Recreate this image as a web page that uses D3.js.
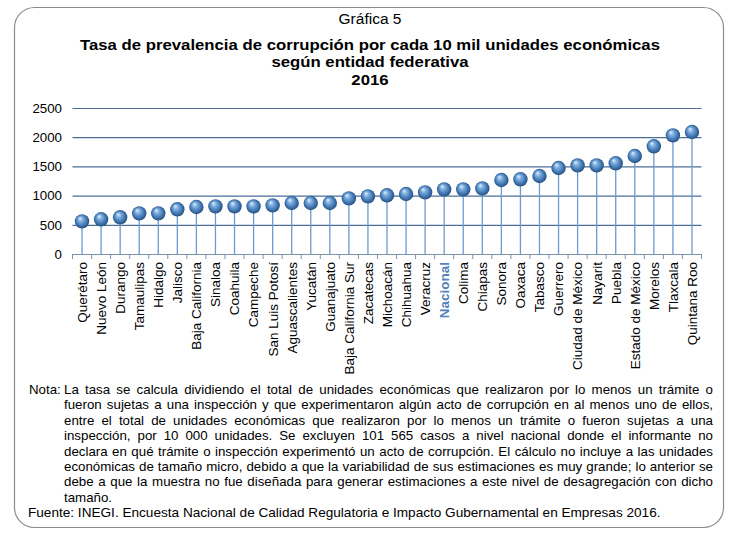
<!DOCTYPE html>
<html>
<head>
<meta charset="utf-8">
<script src="https://cdn.jsdelivr.net/npm/d3@7"></script>
<style>
  html, body { margin: 0; padding: 0; background: #fff; }
  svg { display: block; }
  text { font-family: "Liberation Sans", Arial, sans-serif; fill: #000; }
</style>
</head>
<body>
<svg id="chart" width="735" height="535"></svg>
<script>
const categories = ["Querétaro","Nuevo León","Durango","Tamaulipas","Hidalgo","Jalisco","Baja California","Sinaloa","Coahuila","Campeche","San Luis Potosí","Aguascalientes","Yucatán","Guanajuato","Baja California Sur","Zacatecas","Michoacán","Chihuahua","Veracruz","Nacional","Colima","Chiapas","Sonora","Oaxaca","Tabasco","Guerrero","Ciudad de México","Nayarit","Puebla","Estado de México","Morelos","Tlaxcala","Quintana Roo"];
const values = [559, 594, 628, 696, 696, 765, 805, 816, 816, 816, 833, 873, 873, 873, 953, 987, 1005, 1027, 1056, 1107, 1107, 1124, 1267, 1279, 1336, 1473, 1518, 1518, 1553, 1678, 1844, 2032, 2089];
const yTicks = [0, 500, 1000, 1500, 2000, 2500];
const highlight = "Nacional";
const titleLines = ["Gráfica 5", "Tasa de prevalencia de corrupción por cada 10 mil unidades económicas", "según entidad federativa", "2016"];
const noteLabel = "Nota:";
const noteLines = [
  "La tasa se calcula dividiendo el total de unidades económicas que realizaron por lo menos un trámite o",
  "fueron sujetas a una inspección y que experimentaron algún acto de corrupción en al menos uno de ellos,",
  "entre el total de unidades económicas que realizaron por lo menos un trámite o fueron sujetas a una",
  "inspección, por 10 000 unidades. Se excluyen 101 565 casos a nivel nacional donde el informante no",
  "declara en qué trámite o inspección experimentó un acto de corrupción. El cálculo no incluye a las unidades",
  "económicas de tamaño micro, debido a que la variabilidad de sus estimaciones es muy grande; lo anterior se",
  "debe a que la muestra no fue diseñada para generar estimaciones a este nivel de desagregación con dicho",
  "tamaño."
];
const sourceLine = "Fuente: INEGI. Encuesta Nacional de Calidad Regulatoria e Impacto Gubernamental en Empresas 2016.";

const svg = d3.select("#chart");

// frame
svg.append("rect").attr("x", 14.5).attr("y", 7.5).attr("width", 709).attr("height", 520)
  .attr("rx", 20).attr("ry", 20).attr("fill", "#fff").attr("stroke", "#8c8c8c").attr("stroke-width", 1.2);

// title
const titleY = [24, 49.5, 67, 84.5];
const titleNodes = titleLines.map((t, i) =>
  svg.append("text").attr("x", 370).attr("y", titleY[i]).attr("text-anchor", "middle")
    .attr("font-size", i === 0 ? 15.5 : 15).attr("font-weight", i === 0 ? "normal" : "bold").text(t));
const stretch = 580 / titleNodes[1].node().getComputedTextLength();
titleNodes.slice(1).forEach(n => {
  const w = n.node().getComputedTextLength();
  n.attr("textLength", w * stretch).attr("lengthAdjust", "spacingAndGlyphs");
});

// scales
const x = d3.scaleBand().domain(categories).range([72.5, 701.5]);
const y = d3.scaleLinear().domain([0, 2500]).range([254, 108]);

// gridlines
const grid = svg.append("g").attr("class", "grid")
  .attr("transform", "translate(72.5,0)")
  .call(d3.axisLeft(y).tickValues(yTicks.filter(d => d > 0)).tickSize(-629).tickFormat(""));
grid.select(".domain").remove();
grid.selectAll("line").attr("stroke", "#4a6e98").attr("stroke-width", 1.2);

// y labels
svg.append("g").selectAll("text").data(yTicks).join("text")
  .attr("x", 62).attr("y", d => y(d)).attr("dy", "0.36em").attr("text-anchor", "end")
  .attr("font-size", 13.3).text(d => d);

// gradient
const defs = svg.append("defs");
const grad = defs.append("radialGradient").attr("id", "ball").attr("cx", "50%").attr("cy", "50%").attr("r", "55%").attr("fx", "35%").attr("fy", "28%");
grad.append("stop").attr("offset", "0%").attr("stop-color", "#e6f0fa");
grad.append("stop").attr("offset", "30%").attr("stop-color", "#7fb0e0");
grad.append("stop").attr("offset", "70%").attr("stop-color", "#3f74b0");
grad.append("stop").attr("offset", "100%").attr("stop-color", "#1f4670");

const data = categories.map((c, i) => ({ c, v: values[i] }));
const cx = d => x(d.c) + x.bandwidth() / 2;

// stems
svg.append("g").selectAll("line").data(data).join("line")
  .attr("x1", cx).attr("x2", cx).attr("y1", y(0)).attr("y2", d => y(d.v))
  .attr("stroke", "#6b9bd0").attr("stroke-width", 1.3);

// x axis
const xAxis = svg.append("g").attr("transform", `translate(0,${y(0)})`)
  .call(d3.axisBottom(x).tickSize(0).tickFormat(""));
xAxis.select(".domain").attr("stroke", "#7f93ad").attr("stroke-width", 1.2);
svg.append("g").selectAll("line").data(d3.range(categories.length + 1)).join("line")
  .attr("x1", i => 72.5 + i * x.step()).attr("x2", i => 72.5 + i * x.step())
  .attr("y1", y(0)).attr("y2", y(0) + 5).attr("stroke", "#7f93ad").attr("stroke-width", 1);

// balls
svg.append("g").selectAll("circle").data(data).join("circle")
  .attr("cx", cx).attr("cy", d => y(d.v)).attr("r", 7.2).attr("fill", "url(#ball)");

// x labels
svg.append("g").selectAll("text").data(data).join("text")
  .attr("transform", d => `translate(${cx(d)},${y(0) + 8}) rotate(-90)`)
  .attr("dy", "0.36em").attr("text-anchor", "end").attr("font-size", 13.5)
  .attr("font-weight", d => d.c === highlight ? "bold" : "normal")
  .style("fill", d => d.c === highlight ? "#4f81bd" : "#000")
  .text(d => d.c);

// note
const noteX = 64, noteRight = 713, lineH = 15.4, noteTop = 394;
svg.append("text").attr("x", 29).attr("y", noteTop).attr("font-size", 13.3).text(noteLabel);
noteLines.forEach((line, i) => {
  const yy = noteTop + i * lineH;
  const words = line.split(" ");
  const g = svg.append("g");
  const nodes = words.map(w => g.append("text").attr("y", yy).attr("font-size", 13.3).text(w));
  const widths = nodes.map(n => n.node().getComputedTextLength());
  const total = d3.sum(widths);
  const justify = i < noteLines.length - 1;
  const gap = justify ? (noteRight - noteX - total) / (words.length - 1) : 3.7;
  let xx = noteX;
  nodes.forEach((n, k) => { n.attr("x", xx); xx += widths[k] + gap; });
});
svg.append("text").attr("x", 28).attr("y", noteTop + noteLines.length * lineH).attr("font-size", 13.6).text(sourceLine);
</script>
</body>
</html>
